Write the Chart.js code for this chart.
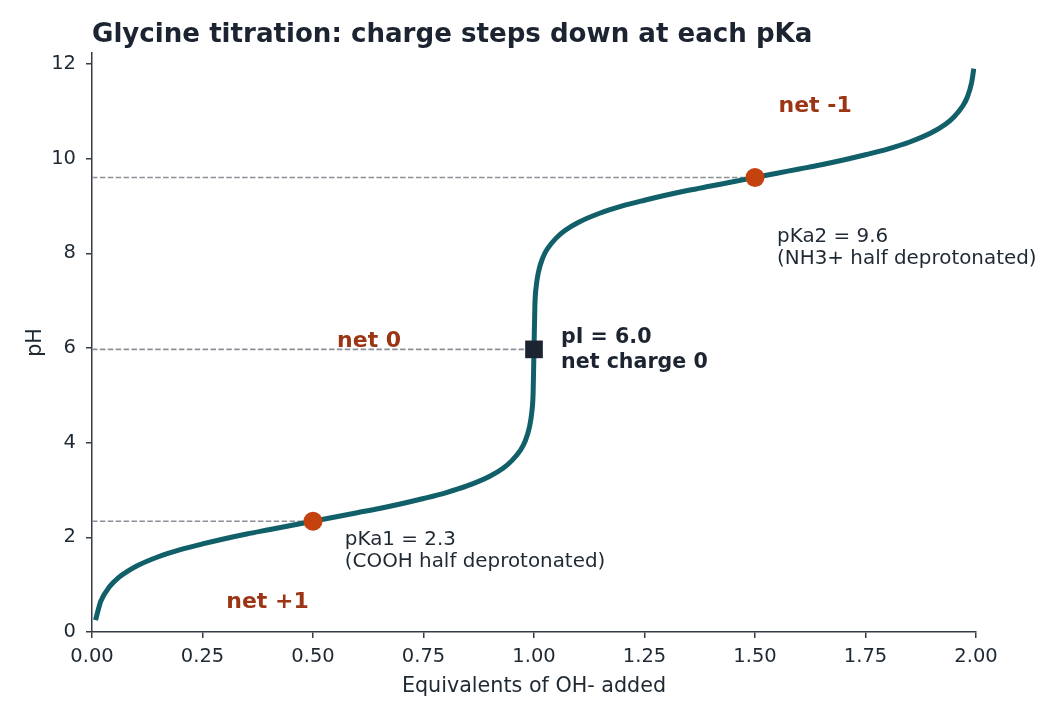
<!DOCTYPE html>
<html>
<head>
<meta charset="utf-8">
<script src="https://cdn.jsdelivr.net/npm/chart.js@4.4.1/dist/chart.umd.min.js"></script>
<style>
html,body{margin:0;padding:0;background:#fff;}
#wrap{width:1061px;height:719px;position:relative;}
</style>
</head>
<body>
<div id="wrap"><canvas id="c" width="1061" height="719"></canvas></div>
<script>
// ---- data ----
const equivalents = [0.008,0.02,0.04,0.06,0.08,0.10,0.15,0.20,0.25,0.30,0.35,0.40,0.45,0.50,0.55,0.60,0.65,0.70,0.75,0.80,0.85,0.90,0.93,0.95,0.97,0.98,0.99,0.995,0.998,1.00,1.002,1.005,1.01,1.02,1.03,1.05,1.07,1.10,1.15,1.20,1.25,1.30,1.35,1.40,1.45,1.50,1.55,1.60,1.65,1.70,1.75,1.80,1.85,1.90,1.93,1.95,1.97,1.98,1.99,1.995];
const phValues   = [0.25,0.65,0.96,1.15,1.28,1.39,1.59,1.74,1.86,1.97,2.07,2.16,2.25,2.34,2.43,2.52,2.61,2.71,2.82,2.94,3.09,3.29,3.46,3.62,3.85,4.03,4.34,4.64,5.04,5.97,6.90,7.30,7.60,7.91,8.09,8.32,8.48,8.65,8.85,9.00,9.12,9.23,9.33,9.42,9.51,9.60,9.69,9.78,9.87,9.97,10.08,10.20,10.35,10.55,10.72,10.88,11.11,11.29,11.60,11.90];
const pkaX  = [0.5, 1.5];
const pkaY  = [2.34, 9.60];
const piX   = [1.0];
const piY   = [5.97];
const xTicks = [0,0.25,0.5,0.75,1.0,1.25,1.5,1.75,2.0];
const yTicks = [0,2,4,6,8,10,12];
const chargeLabels = ['net +1','net 0','net -1'];
const pkaLabels = [['pKa1 = 2.3','(COOH half deprotonated)'],['pKa2 = 9.6','(NH3+ half deprotonated)']];
const piLabel = ['pI = 6.0','net charge 0'];

const FONT = "'DejaVu Sans', 'Liberation Sans', sans-serif";
const AXIS = '#343c45';
const TEXT = '#1f2933';

const curve = equivalents.map((x,i)=>({x:x,y:phValues[i]}));
const guides = [];
pkaX.forEach((x,i)=>guides.push([{x:0,y:pkaY[i]},{x:x,y:pkaY[i]}]));
piX.forEach((x,i)=>guides.push([{x:0,y:piY[i]},{x:x,y:piY[i]}]));

const datasets = [];
guides.forEach(g=>datasets.push({data:g,borderColor:'#8b9097',borderWidth:1.6,borderDash:[5.5,2.4],pointRadius:0,fill:false,order:3}));
datasets.push({data:curve,borderColor:'#115f69',borderWidth:5,pointRadius:0,fill:false,cubicInterpolationMode:'monotone',order:2,borderCapStyle:'butt'});
datasets.push({data:pkaX.map((x,i)=>({x:x,y:pkaY[i]})),showLine:false,pointRadius:9.5,pointHoverRadius:9.5,pointBackgroundColor:'#c4420e',pointBorderWidth:0,order:1});
datasets.push({data:piX.map((x,i)=>({x:x,y:piY[i]})),showLine:false,pointStyle:'rect',pointRadius:12.5,pointHoverRadius:12.5,pointBackgroundColor:'#1b2430',pointBorderWidth:0,order:0});

// annotation placement (data-space anchors, left/center + alphabetic baseline)
const chargePos = [[0.397,0.507],[0.627,6.02],[1.636,10.99]];
const pkaTextPos = [[0.572,1.838],[1.550,8.246]];

const textPlugin = {
  id:'texts',
  afterDraw(chart){
    const ctx = chart.ctx, xs = chart.scales.x, ys = chart.scales.y;
    const P = (x,y)=>[xs.getPixelForValue(x), ys.getPixelForValue(y)];
    ctx.save();
    ctx.textBaseline = 'alphabetic';
    // title
    ctx.fillStyle = '#1b2430';
    ctx.font = 'bold 26.1px ' + FONT;
    ctx.textAlign = 'left';
    ctx.fillText('Glycine titration: charge steps down at each pKa', 92, 42);
    // axis titles
    ctx.fillStyle = TEXT;
    ctx.font = '20.7px ' + FONT;
    ctx.textAlign = 'center';
    ctx.fillText('Equivalents of OH- added', (chart.chartArea.left+chart.chartArea.right)/2, 692);
    ctx.save();
    ctx.translate(41, (chart.chartArea.top+chart.chartArea.bottom)/2);
    ctx.rotate(-Math.PI/2);
    ctx.fillText('pH', 0, 0);
    ctx.restore();
    // charge region labels
    ctx.fillStyle = '#9b3514';
    ctx.font = 'bold 22px ' + FONT;
    ctx.textAlign = 'center';
    chargeLabels.forEach((t,i)=>{const p=P(chargePos[i][0],chargePos[i][1]); ctx.fillText(t,p[0],p[1]);});
    // pKa labels
    ctx.fillStyle = TEXT;
    ctx.font = '19.9px ' + FONT;
    ctx.textAlign = 'left';
    pkaLabels.forEach((lines,i)=>{
      const p = P(pkaTextPos[i][0], pkaTextPos[i][1]);
      lines.forEach((t,j)=>ctx.fillText(t, p[0], p[1]+j*22));
    });
    // pI label
    ctx.fillStyle = '#1b2430';
    ctx.font = 'bold 20.6px ' + FONT;
    const q = P(piX[0], piY[0]);
    piLabel.forEach((t,j)=>ctx.fillText(t, q[0]+27, q[1]-6.5+j*25));
    ctx.restore();
  }
};

new Chart(document.getElementById('c'), {
  type:'line',
  data:{datasets:datasets},
  options:{
    responsive:false,
    animation:false,
    layout:{padding:{left:0,right:85,top:53,bottom:0}},
    plugins:{legend:{display:false},tooltip:{enabled:false},title:{display:false}},
    elements:{line:{tension:0}},
    scales:{
      x:{type:'linear',min:0,max:2,
         afterFit(s){s.height=87;},
         afterBuildTicks(s){s.ticks = xTicks.map(v=>({value:v}));},
         grid:{drawOnChartArea:false,drawTicks:true,tickLength:6,color:AXIS,lineWidth:1.5},
         border:{display:true,color:AXIS,width:1.5},
         ticks:{color:TEXT,font:{family:FONT,size:19.5},padding:7,maxRotation:0,autoSkip:false,callback:v=>Number(v).toFixed(2)}},
      y:{type:'linear',min:0,max:12.23,
         afterFit(s){s.width=92;},
         afterBuildTicks(s){s.ticks = yTicks.map(v=>({value:v}));},
         grid:{drawOnChartArea:false,drawTicks:true,tickLength:6,color:AXIS,lineWidth:1.5},
         border:{display:true,color:AXIS,width:1.5},
         ticks:{color:TEXT,font:{family:FONT,size:19.5},padding:10,autoSkip:false,callback:v=>String(v)}}
    }
  },
  plugins:[textPlugin]
});
</script>
</body>
</html>
